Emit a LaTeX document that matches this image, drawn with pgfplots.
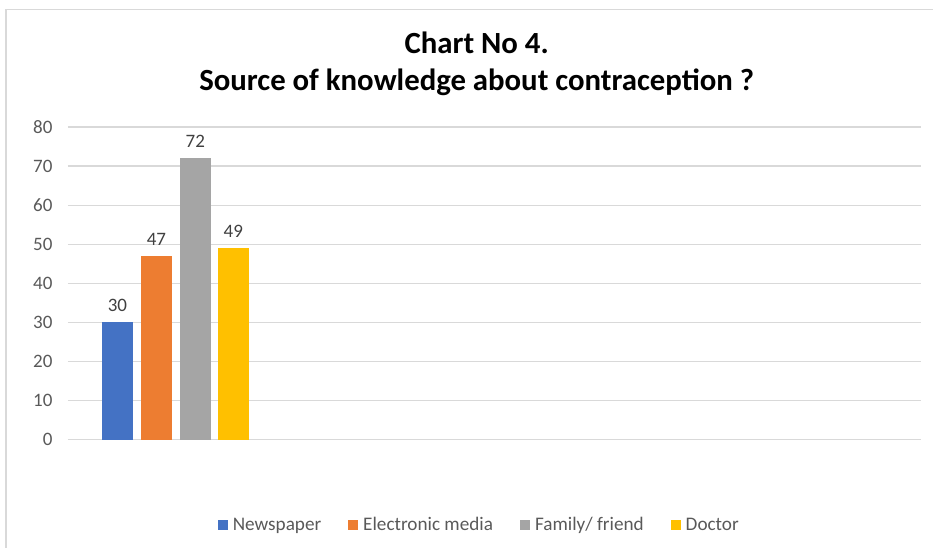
\documentclass[border=0pt]{standalone}
\usepackage{pgfplots}
\pgfplotsset{compat=1.18}
\usepackage{fontspec}
\setmainfont{Carlito}

\definecolor{cBlue}{HTML}{4472C4}
\definecolor{cOrange}{HTML}{ED7D31}
\definecolor{cGray}{HTML}{A5A5A5}
\definecolor{cGold}{HTML}{FFC000}
\definecolor{gridc}{HTML}{D9D9D9}
\definecolor{tickc}{HTML}{595959}
\definecolor{labelc}{HTML}{404040}

\begin{document}
\begin{tikzpicture}[x=1pt,y=1pt]
\path (0,0) rectangle (934,548);
\draw[gridc, line width=1.3pt] (6,0) -- (6,538.5) -- (934,538.5);
\node[font=\fontsize{30.8}{37}\selectfont\bfseries, align=center] at (477,484.5)
  {Chart No 4.\\Source of knowledge about contraception ?};
\begin{axis}[
    at={(68pt,108pt)}, anchor=south west,
    scale only axis, width=854pt, height=313pt,
    xmin=0, xmax=4, ymin=0, ymax=80,
    xtick=\empty, ytick={0,10,...,80},
    ymajorgrids, grid style={gridc, line width=1.2pt},
    axis line style={draw=none},
    major tick length=0pt,
    /pgf/number format/assume math mode=true,
    ticklabel style={font=\fontsize{19}{21}\selectfont, text=tickc},
    yticklabel style={xshift=-12pt},
    nodes near coords,
    every node near coord/.append style={font=\fontsize{19}{21}\selectfont, text=labelc, yshift=7pt},
    legend columns=-1,
    legend style={at={(0.482,-0.272)}, anchor=center, draw=none, fill=none,
      font=\fontsize{19.2}{21}\selectfont, text=tickc,
      /tikz/every odd column/.append style={column sep=3pt},
      /tikz/every even column/.append style={column sep=25pt}},
]
\addplot[ybar, bar shift=0pt, bar width=0.1452, fill=cBlue, draw=none, area legend,
  legend image code/.code={\fill[cBlue] (0pt,-5pt) rectangle (10pt,5pt);}]
  coordinates {(0.2319,30)};
\addlegendentry{Newspaper}
\addplot[ybar, bar shift=0pt, bar width=0.1452, fill=cOrange, draw=none, area legend,
  legend image code/.code={\fill[cOrange] (0pt,-5pt) rectangle (10pt,5pt);}]
  coordinates {(0.4145,47)};
\addlegendentry{Electronic media}
\addplot[ybar, bar shift=0pt, bar width=0.1452, fill=cGray, draw=none, area legend,
  legend image code/.code={\fill[cGray] (0pt,-5pt) rectangle (10pt,5pt);}]
  coordinates {(0.5972,72)};
\addlegendentry{Family/ friend}
\addplot[ybar, bar shift=0pt, bar width=0.1452, fill=cGold, draw=none, area legend,
  legend image code/.code={\fill[cGold] (0pt,-5pt) rectangle (10pt,5pt);}]
  coordinates {(0.7752,49)};
\addlegendentry{Doctor}
\end{axis}
\end{tikzpicture}
\end{document}
